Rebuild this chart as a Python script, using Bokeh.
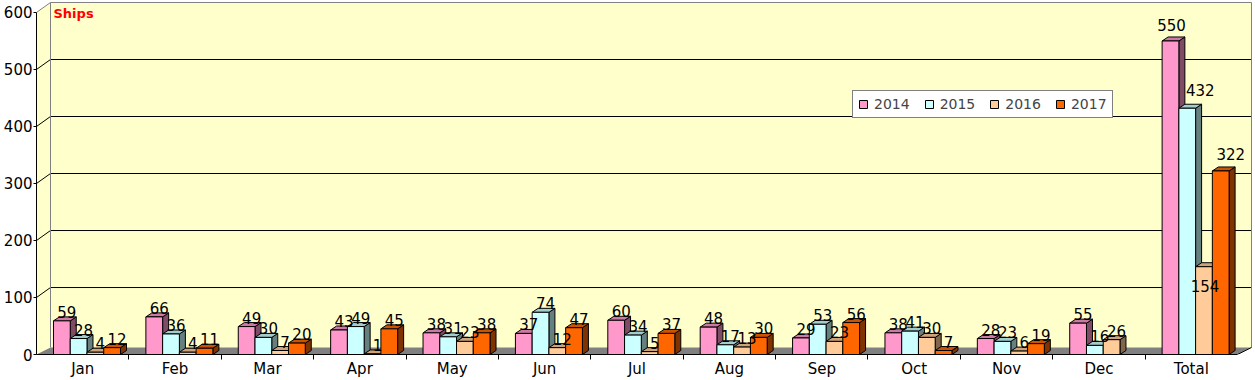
from bokeh.plotting import figure
from bokeh.models import ColumnDataSource, Range1d, FixedTicker, Legend, LegendItem, Label
from bokeh.core.properties import value
from bokeh.embed import file_html
from bokeh.resources import INLINE

# ---------------- data ----------------
categories = ["Jan", "Feb", "Mar", "Apr", "May", "Jun", "Jul", "Aug", "Sep", "Oct", "Nov", "Dec", "Total"]
series_names = ["2014", "2015", "2016", "2017"]
v2014 = [59, 66, 49, 43, 38, 37, 60, 48, 29, 38, 28, 55, 550]
v2015 = [28, 36, 30, 49, 31, 74, 34, 17, 53, 41, 23, 16, 432]
v2016 = [4, 4, 7, 1, 23, 12, 5, 13, 23, 30, 6, 26, 154]
v2017 = [12, 11, 20, 45, 38, 47, 37, 30, 56, 7, 19, None, 322]
y_ticks = [0, 100, 200, 300, 400, 500, 600]
unit_label = "Ships"

series_values = [v2014, v2015, v2016, v2017]

# ---------------- style ----------------
front_colors = ["#FF99CC", "#CCFFFF", "#FFCC99", "#FF6600"]


def shade(hexcol, f):
    r, g, b = int(hexcol[1:3], 16), int(hexcol[3:5], 16), int(hexcol[5:7], 16)
    return "#%02X%02X%02X" % (int(r * f), int(g * f), int(b * f))


top_colors = [shade(c, 0.8) for c in front_colors]
side_colors = [shade(c, 0.5) for c in front_colors]

FONT = "DejaVu Sans"
W, H = 1255, 380
BL, BR, BT, BB = 36, 3, 0, 25
FW = W - BL - BR
FH = H - BT - BB
WALL_DX, WALL_DY, FLOOR_DY = 14, 10, 7     # px depth of the 3D box
BAR_DX, BAR_DY = 6, 4                      # px depth of bars
NCAT = len(categories)
YMAX = y_ticks[-1]

kx = (FW - WALL_DX - 1) / NCAT             # px per category
ky = (FH - WALL_DY - 2) / YMAX             # px per unit
X1 = FW / kx
Y1 = FH / ky
DXu, DYu, FDYu = WALL_DX / kx, WALL_DY / ky, FLOOR_DY / ky
bdx, bdy = BAR_DX / kx, BAR_DY / ky
OFF = 17 / 92.4
BW = 16.75 / 92.4

# label nudges (px, x right / y up) for the crowded Total group
nudges = {(12, 0): (-4, 7), (12, 1): (8, 9), (12, 2): (-4, -28), (12, 3): (5, 8)}

p = figure(width=W, height=H, x_range=Range1d(0, X1), y_range=Range1d(0, Y1),
           output_backend="svg", toolbar_location=None,
           min_border_left=BL, min_border_right=BR, min_border_top=BT, min_border_bottom=BB)
p.outline_line_color = None
p.background_fill_color = "white"
p.border_fill_color = "white"
p.xgrid.visible = False
p.ygrid.visible = False

# ---- walls ----
p.quad(left=DXu, right=NCAT + DXu, bottom=FDYu, top=YMAX + DYu,
       fill_color="#FFFFCC", line_color=None)
p.patch(x=[0, 0, DXu, DXu], y=[0, YMAX, YMAX + DYu, FDYu], fill_color="#FFFFCC", line_color=None)

grid_xs, grid_ys = [], []
for t in y_ticks[1:-1]:
    grid_xs.append([0, DXu, NCAT + DXu])
    grid_ys.append([t, t + DYu, t + DYu])
p.multi_line(xs=grid_xs, ys=grid_ys, line_color="black", line_width=1)

p.multi_line(xs=[[DXu, DXu], [0, DXu, NCAT + DXu, NCAT + DXu]],
             ys=[[FDYu, YMAX + DYu], [YMAX, YMAX + DYu, YMAX + DYu, FDYu]],
             line_color="#808080", line_width=1)

# ---- floor ----
p.patch(x=[0, NCAT, NCAT + DXu, DXu], y=[0, 0, FDYu, FDYu], fill_color="#808080", line_color=None)
p.line(x=[NCAT, NCAT + DXu], y=[0, FDYu], line_color="black", line_width=1)

# ---- bars ----
legend_items = []
lab_x, lab_y, lab_t = [], [], []
for j, vals in enumerate(series_values):
    x0s, x1s, tops = [], [], []
    top_xs, top_ys, side_xs, side_ys = [], [], [], []
    for i, v in enumerate(vals):
        if v is None:
            continue
        x0 = i + OFF + j * BW
        x1 = x0 + BW
        x0s.append(x0); x1s.append(x1); tops.append(v)
        top_xs.append([x0, x1, x1 + bdx, x0 + bdx])
        top_ys.append([v, v, v + bdy, v + bdy])
        side_xs.append([x1, x1 + bdx, x1 + bdx, x1])
        side_ys.append([0, bdy, v + bdy, v])
        nx, ny = nudges.get((i, j), (0, 0))
        lab_x.append((x0 + x1) / 2 + (5 + nx) / kx)
        lab_y.append(v + (9 + ny) / ky)
        lab_t.append(str(v))
    p.patches(xs=side_xs, ys=side_ys, fill_color=side_colors[j], line_color="black", line_width=1)
    p.patches(xs=top_xs, ys=top_ys, fill_color=top_colors[j], line_color="black", line_width=1)
    src = ColumnDataSource(dict(left=x0s, right=x1s, top=tops, bottom=[0] * len(tops)))
    r = p.quad(left="left", right="right", top="top", bottom="bottom", source=src,
               fill_color=front_colors[j], line_color="black", line_width=1)
    legend_items.append(LegendItem(label=series_names[j], renderers=[r]))

p.text(x=lab_x, y=lab_y, text=lab_t, text_font=value(FONT), text_font_size="15px",
       text_align="center", text_baseline="alphabetic", text_color="black")

p.add_layout(Label(x=DXu + 3 / kx, y=YMAX + DYu - 4 / ky, text=unit_label, text_color="#FF0000",
                   text_font=FONT, text_font_style="bold", text_font_size="13px",
                   text_baseline="top", text_align="left"))

# ---- axes ----
p.xaxis.ticker = FixedTicker(ticks=[i + 0.5 for i in range(NCAT)], minor_ticks=list(range(1, NCAT)))
p.xaxis.major_label_overrides = {i + 0.5: c for i, c in enumerate(categories)}
p.xaxis.bounds = (0, NCAT)
p.xaxis.major_tick_out = 0
p.xaxis.major_tick_in = 0
p.xaxis.minor_tick_out = 5
p.xaxis.minor_tick_in = 0
p.xaxis.minor_tick_line_color = "black"
p.xaxis.axis_line_color = "black"
p.xaxis.major_label_standoff = 0
p.xaxis.major_label_text_font = FONT
p.xaxis.major_label_text_font_size = "15px"
p.xaxis.major_label_text_color = "black"

p.yaxis.ticker = FixedTicker(ticks=y_ticks, minor_ticks=[])
p.yaxis.bounds = (0, YMAX)
p.yaxis.major_tick_out = 3
p.yaxis.major_tick_in = 0
p.yaxis.major_tick_line_color = "black"
p.yaxis.axis_line_color = "black"
p.yaxis.major_label_standoff = 1
p.yaxis.major_label_text_font = FONT
p.yaxis.major_label_text_font_size = "15px"
p.yaxis.major_label_text_color = "black"

# ---- legend ----
legend = Legend(items=legend_items, orientation="horizontal", location=(816, 236),
                border_line_color="black", border_line_width=1,
                background_fill_color="white", background_fill_alpha=1.0,
                label_text_font=FONT, label_text_font_size="14px",
                glyph_width=10, glyph_height=10, label_standoff=6, spacing=14,
                padding=5, margin=0, label_height=12)
p.add_layout(legend)

open("out.html", "w").write(file_html(p, INLINE))
